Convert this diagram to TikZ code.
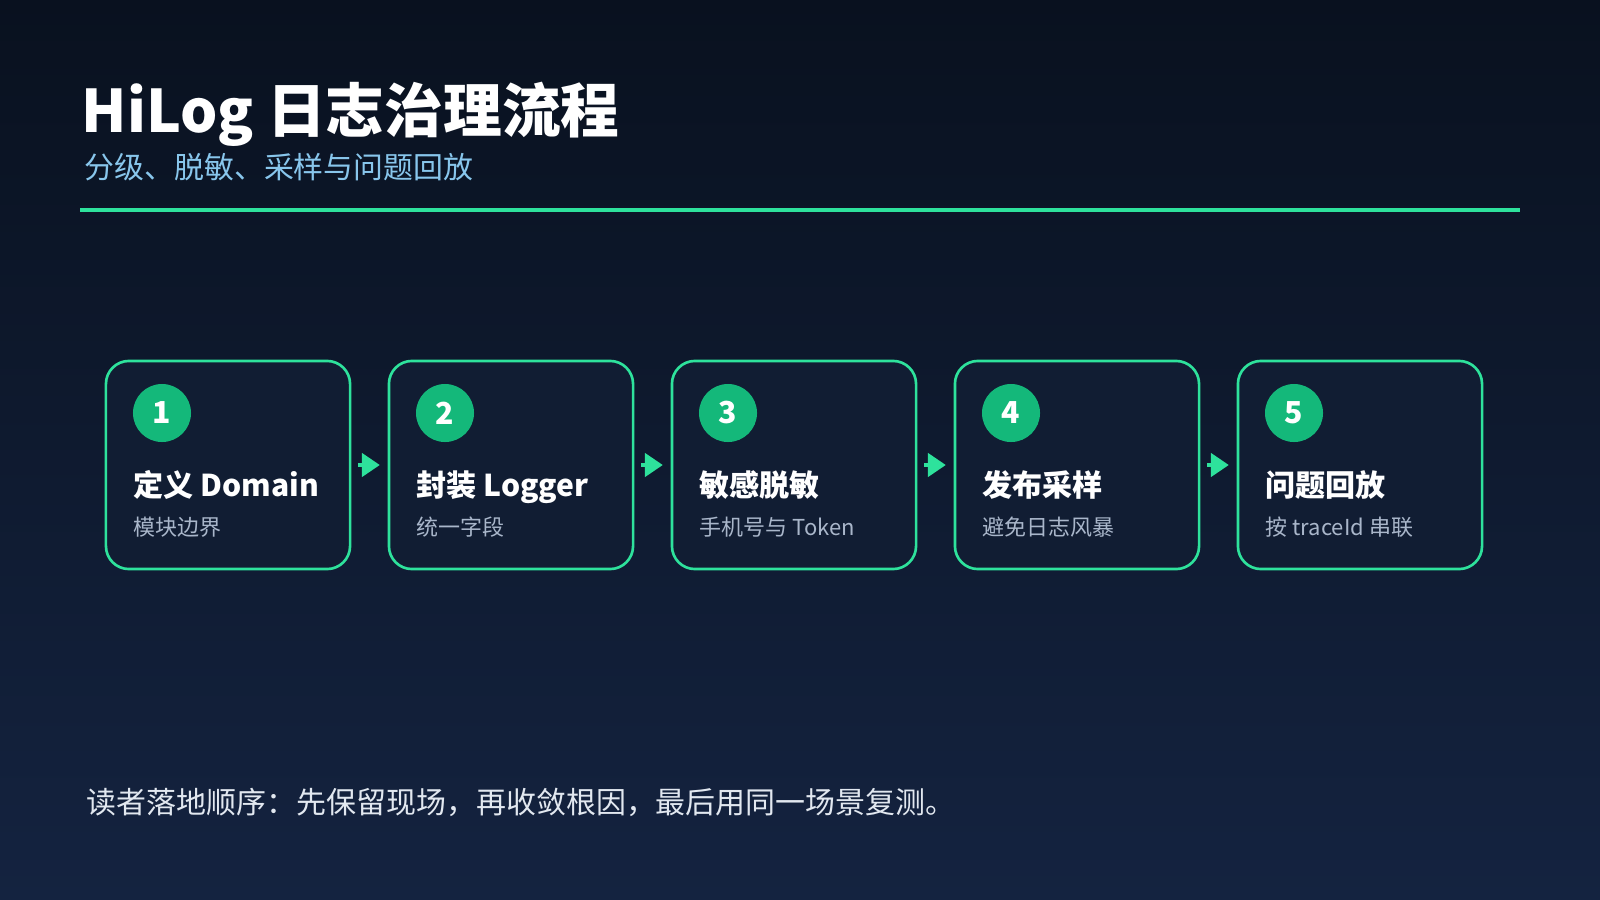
\documentclass[tikz,border=0pt]{standalone}
\usepackage{fontspec}
\setmainfont{Noto Sans CJK SC}
\usepackage{xcolor}
\usepackage{tikz}
\usetikzlibrary{arrows.meta, positioning}
\definecolor{colorTop}{HTML}{09111F}
\definecolor{colorBottom}{HTML}{142340}
\definecolor{colorBox}{HTML}{111D33}
\definecolor{colorI}{HTML}{2EE29C}
\definecolor{colorII}{HTML}{14B87A}
\definecolor{colorSub}{HTML}{88C6EC}
\definecolor{colorNote}{HTML}{A9B6CA}
\definecolor{colorFoot}{HTML}{E2E8F0}

\begin{document}
\begin{tikzpicture}[x=0.01cm,y=-0.01cm,
        stepbox/.style={draw=colorI, fill=colorBox, line width=0.75pt, rounded corners=0.23cm,
            minimum width=2.44cm, minimum height=2.08cm, inner sep=0pt},
        num/.style={circle, fill=colorII, minimum size=0.58cm, inner sep=0pt, text=white,
            font=\fontsize{8.6pt}{9pt}\selectfont\bfseries},
        head/.style={anchor=base west, inner sep=0pt, text=white,
            font=\fontsize{8.55pt}{9pt}\selectfont\bfseries},
        note/.style={anchor=base west, inner sep=0pt, text=colorNote,
            font=\fontsize{6.25pt}{7pt}\selectfont},
        flow/.style={colorI, line width=1.4pt, shorten <=2pt, shorten >=2.2pt,
            -{Triangle[length=0.18cm, width=0.23cm]}}]
        \shade[top color=colorTop, bottom color=colorBottom] (0,0) rectangle (1600,900);
        \useasboundingbox (0,0) rectangle (1600,900);
        % title
        \node[anchor=base west, inner sep=0pt, text=white, font=\fontsize{16.7pt}{18pt}\selectfont\bfseries]
            (title) at (81,132) {HiLog 日志治理流程};
        \node[anchor=base west, inner sep=0pt, text=colorSub, font=\fontsize{8.5pt}{9pt}\selectfont]
            (subtitle) at (84,178) {分级、脱敏、采样与问题回放};
        \draw[colorI, line width=1.15pt] (80,210) -- (1520,210);
        % steps
        \node[stepbox] (b1) at (228,465) {};
        \node[stepbox] (b2) at (511,465) {};
        \node[stepbox] (b3) at (794,465) {};
        \node[stepbox] (b4) at (1077,465) {};
        \node[stepbox] (b5) at (1360,465) {};
        \node[num] (n1) at (162,413) {1};
        \node[num] (n2) at (445,413) {2};
        \node[num] (n3) at (728,413) {3};
        \node[num] (n4) at (1011,413) {4};
        \node[num] (n5) at (1294,413) {5};
        \node[head] (h1) at (133,496) {定义 Domain};
        \node[head] (h2) at (416,496) {封装 Logger};
        \node[head] (h3) at (699,496) {敏感脱敏};
        \node[head] (h4) at (982,496) {发布采样};
        \node[head] (h5) at (1265,496) {问题回放};
        \node[note] (s1) at (133,535) {模块边界};
        \node[note] (s2) at (416,535) {统一字段};
        \node[note] (s3) at (699,535) {手机号与 Token};
        \node[note] (s4) at (982,535) {避免日志风暴};
        \node[note] (s5) at (1265,535) {按 traceId 串联};
        \draw[flow] (b1) -- (b2);
        \draw[flow] (b2) -- (b3);
        \draw[flow] (b3) -- (b4);
        \draw[flow] (b4) -- (b5);
        % footer
        \node[anchor=base west, inner sep=0pt, text=colorFoot, font=\fontsize{8.52pt}{9pt}\selectfont]
            (foot) at (86,813) {读者落地顺序：先保留现场，再收敛根因，最后用同一场景复测。};
    \end{tikzpicture}
\end{document}
